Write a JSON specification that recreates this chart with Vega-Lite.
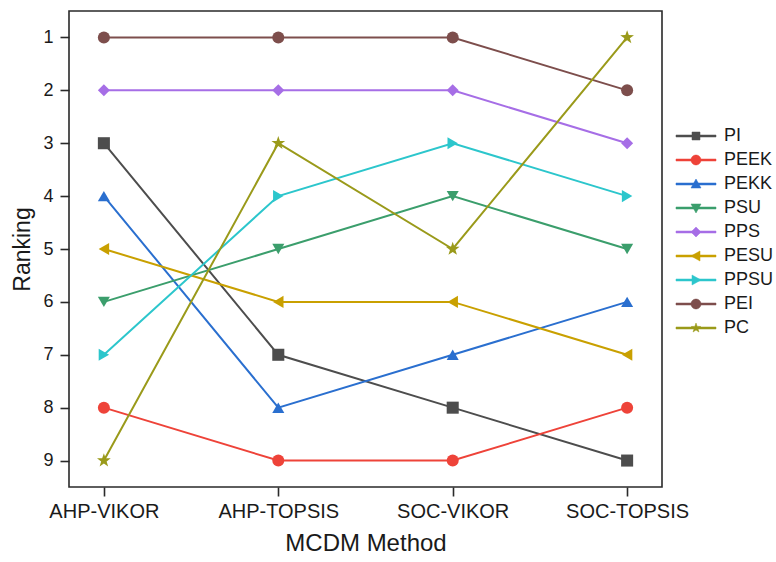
{
  "$schema": "https://vega.github.io/schema/vega-lite/v6.json",
  "width": 593,
  "height": 476,
  "autosize": {"type": "none"},
  "padding": {"left": 69, "top": 11, "right": 114, "bottom": 75},
  "background": "white",
  "config": {
    "font": "Liberation Sans",
    "view": {"stroke": "#2a2a2a", "strokeWidth": 1.6},
    "axis": {"grid": false, "domain": false, "tickColor": "#2a2a2a", "tickWidth": 1.6, "labelColor": "#1a1a1a", "titleColor": "#1a1a1a", "labelFont": "Liberation Sans", "titleFont": "Liberation Sans", "titleFontWeight": "normal"},
    "legend": {"labelFontSize": 18, "labelColor": "#1a1a1a", "symbolSize": 100}
  },
  "data": {
    "values": [
      {"series": "PI", "method": "AHP-VIKOR", "rank": 3},
      {"series": "PI", "method": "AHP-TOPSIS", "rank": 7},
      {"series": "PI", "method": "SOC-VIKOR", "rank": 8},
      {"series": "PI", "method": "SOC-TOPSIS", "rank": 9},
      {"series": "PEEK", "method": "AHP-VIKOR", "rank": 8},
      {"series": "PEEK", "method": "AHP-TOPSIS", "rank": 9},
      {"series": "PEEK", "method": "SOC-VIKOR", "rank": 9},
      {"series": "PEEK", "method": "SOC-TOPSIS", "rank": 8},
      {"series": "PEKK", "method": "AHP-VIKOR", "rank": 4},
      {"series": "PEKK", "method": "AHP-TOPSIS", "rank": 8},
      {"series": "PEKK", "method": "SOC-VIKOR", "rank": 7},
      {"series": "PEKK", "method": "SOC-TOPSIS", "rank": 6},
      {"series": "PSU", "method": "AHP-VIKOR", "rank": 6},
      {"series": "PSU", "method": "AHP-TOPSIS", "rank": 5},
      {"series": "PSU", "method": "SOC-VIKOR", "rank": 4},
      {"series": "PSU", "method": "SOC-TOPSIS", "rank": 5},
      {"series": "PPS", "method": "AHP-VIKOR", "rank": 2},
      {"series": "PPS", "method": "AHP-TOPSIS", "rank": 2},
      {"series": "PPS", "method": "SOC-VIKOR", "rank": 2},
      {"series": "PPS", "method": "SOC-TOPSIS", "rank": 3},
      {"series": "PESU", "method": "AHP-VIKOR", "rank": 5},
      {"series": "PESU", "method": "AHP-TOPSIS", "rank": 6},
      {"series": "PESU", "method": "SOC-VIKOR", "rank": 6},
      {"series": "PESU", "method": "SOC-TOPSIS", "rank": 7},
      {"series": "PPSU", "method": "AHP-VIKOR", "rank": 7},
      {"series": "PPSU", "method": "AHP-TOPSIS", "rank": 4},
      {"series": "PPSU", "method": "SOC-VIKOR", "rank": 3},
      {"series": "PPSU", "method": "SOC-TOPSIS", "rank": 4},
      {"series": "PEI", "method": "AHP-VIKOR", "rank": 1},
      {"series": "PEI", "method": "AHP-TOPSIS", "rank": 1},
      {"series": "PEI", "method": "SOC-VIKOR", "rank": 1},
      {"series": "PEI", "method": "SOC-TOPSIS", "rank": 2},
      {"series": "PC", "method": "AHP-VIKOR", "rank": 9},
      {"series": "PC", "method": "AHP-TOPSIS", "rank": 3},
      {"series": "PC", "method": "SOC-VIKOR", "rank": 5},
      {"series": "PC", "method": "SOC-TOPSIS", "rank": 1}
    ]
  },
  "encoding": {
    "x": {
      "field": "method", "type": "ordinal",
      "sort": ["AHP-VIKOR", "AHP-TOPSIS", "SOC-VIKOR", "SOC-TOPSIS"],
      "scale": {"type": "point", "padding": 0.2},
      "axis": {"title": "MCDM Method", "labelAngle": 0, "labelFontSize": 20, "titleFontSize": 24, "tickSize": 9, "labelPadding": 5, "titlePadding": 10}
    },
    "y": {
      "field": "rank", "type": "quantitative",
      "scale": {"domain": [0.5, 9.5], "reverse": true, "nice": false, "zero": false},
      "axis": {"title": "Ranking", "values": [1, 2, 3, 4, 5, 6, 7, 8, 9], "labelFontSize": 18, "titleFontSize": 23, "tickSize": 9, "labelPadding": 7, "titlePadding": 8}
    },
    "color": {
      "field": "series", "type": "nominal",
      "scale": {
        "domain": ["PI", "PEEK", "PEKK", "PSU", "PPS", "PESU", "PPSU", "PEI", "PC"],
        "range": ["#4d4d4d", "#ee4339", "#2a6fcf", "#3b9e6c", "#a66ee6", "#c9a000", "#2cc6cc", "#7d4e4c", "#9a9a1a"]
      },
      "legend": {
        "title": null, "orient": "none", "legendX": 599, "legendY": 116,
        "symbolOffset": 19, "labelOffset": 19, "rowPadding": 6,
        "encode": {"symbols": {"update": {
          "strokeWidth": {"value": 0.5},
          "shape": {"signal": "datum.value === 'PI' ? 'M-4,-0.2H4V0.2H-4Z M-0.8,-0.8H0.8V0.8H-0.8Z' : datum.value === 'PEEK' ? 'M-4,-0.2H4V0.2H-4Z M1,0A1,1 0 1,1 -1,0A1,1 0 1,1 1,0Z' : datum.value === 'PEKK' ? 'M-4,-0.2H4V0.2H-4Z M0,-1L1,0.8H-1Z' : datum.value === 'PSU' ? 'M-4,-0.2H4V0.2H-4Z M0,1L-1,-0.8H1Z' : datum.value === 'PPS' ? 'M-4,-0.2H4V0.2H-4Z M0,-1L1,0L0,1L-1,0Z' : datum.value === 'PESU' ? 'M-4,-0.2H4V0.2H-4Z M-1,0L0.8,-1V1Z' : datum.value === 'PPSU' ? 'M-4,-0.2H4V0.2H-4Z M1,0L-0.8,1V-1Z' : datum.value === 'PEI' ? 'M-4,-0.2H4V0.2H-4Z M1,0A1,1 0 1,1 -1,0A1,1 0 1,1 1,0Z' : 'M-4,-0.2H4V0.2H-4Z M0,-1L0.235,-0.324L0.951,-0.309L0.38,0.124L0.588,0.809L0,0.4L-0.588,0.809L-0.38,0.124L-0.951,-0.309L-0.235,-0.324Z'"}
        }}}
      }
    }
  },
  "layer": [
    {
      "mark": {"type": "line", "strokeWidth": 2}
    },
    {
      "mark": {"type": "point", "filled": true, "opacity": 1, "size": 145},
      "encoding": {
        "shape": {
          "field": "series", "type": "nominal",
          "scale": {
            "domain": ["PC", "PEI", "PPSU", "PESU", "PPS", "PSU", "PEKK", "PEEK", "PI"],
            "range": ["M0,-1.2L0.282,-0.389L1.141,-0.371L0.456,0.149L0.706,0.971L0,0.48L-0.706,0.971L-0.456,0.149L-1.141,-0.371L-0.282,-0.389Z", "circle", "triangle-right", "triangle-left", "diamond", "triangle-down", "triangle-up", "circle", "square"]
          },
          "legend": null
        }
      }
    }
  ]
}
